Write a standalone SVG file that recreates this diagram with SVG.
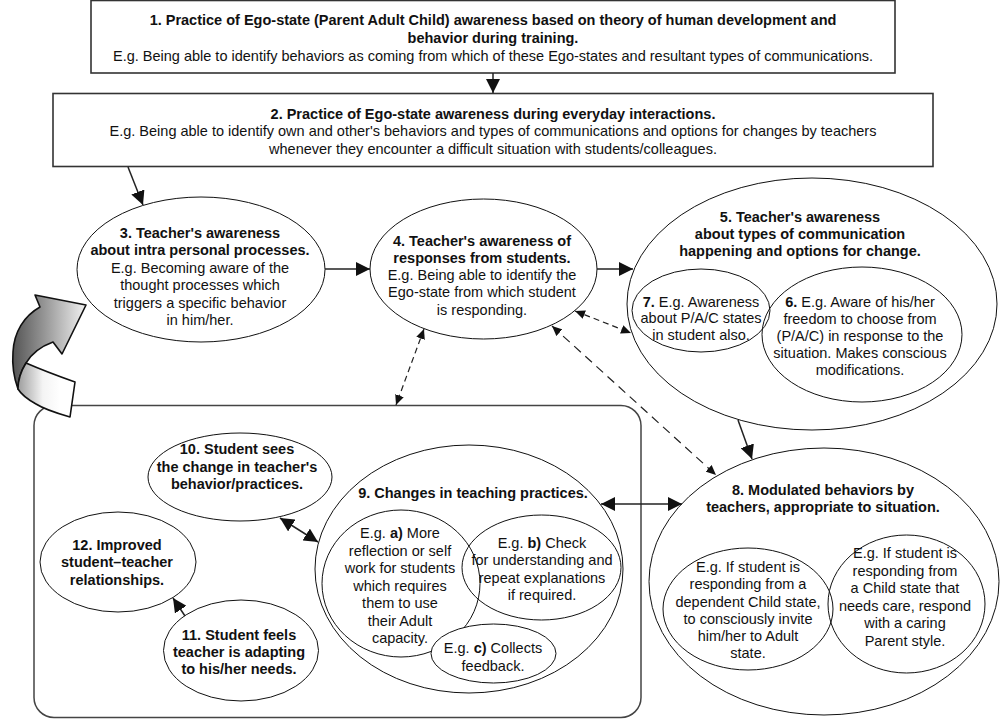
<svg xmlns="http://www.w3.org/2000/svg" width="1000" height="719" viewBox="0 0 1000 719">
<style>
.t{font-family:"Liberation Sans",Arial,Helvetica,sans-serif;font-size:14.5px;fill:#111;text-anchor:middle}
.b{font-weight:bold}
.box{fill:#fff;stroke:#333;stroke-width:1.6}
.el{fill:#fff;stroke:#111;stroke-width:1}
.in{fill:none;stroke:#111;stroke-width:1}
.ln{stroke:#222;stroke-width:1.5;fill:none}
.dash{stroke:#222;stroke-width:1.2;fill:none;stroke-dasharray:6 4}
.dash2{stroke:#222;stroke-width:1.2;fill:none;stroke-dasharray:9 6}
.arw{fill:#111}
</style>
<defs>
<marker id="ah" viewBox="0 0 14 14" refX="14" refY="7" markerWidth="14" markerHeight="14" markerUnits="userSpaceOnUse" orient="auto-start-reverse">
<path class="arw" d="M0,0 L14,7 L0,14 Z"/>
</marker>
<marker id="sh" viewBox="0 0 10 10" refX="10" refY="5" markerWidth="10" markerHeight="10" markerUnits="userSpaceOnUse" orient="auto-start-reverse">
<path class="arw" d="M0,0.5 L10,5 L0,9.5 Z"/>
</marker>
<linearGradient id="gA" x1="13" y1="0" x2="86" y2="0" gradientUnits="userSpaceOnUse">
<stop offset="0" stop-color="#555"/>
<stop offset="0.45" stop-color="#999"/>
<stop offset="1" stop-color="#f2f2f2"/>
</linearGradient>
<linearGradient id="gB" x1="17" y1="0" x2="60" y2="0" gradientUnits="userSpaceOnUse">
<stop offset="0" stop-color="#9a9a9a"/>
<stop offset="0.6" stop-color="#f4f4f4"/>
<stop offset="1" stop-color="#fff"/>
</linearGradient>
</defs>

<g id="container">
<rect x="34" y="405.5" width="607" height="312" rx="20" ry="20" fill="#fff" stroke="#444" stroke-width="1.5"/>
</g>

<g id="loop-arrow" stroke="#111" stroke-width="1.6" stroke-linejoin="round">
<path fill="url(#gA)" d="M40,307 L35,295 L86,305 L62,354 L53,342 C42,346 32,353 26,363 C21,371 18,380 18,389 C14,378 12,365 13,352 C14,332 24,316 40,307 Z"/>
<path fill="url(#gB)" d="M26,363 C42,370 58,376 75,382 L70,417 C56,413 44,409 36,404 C27,399 21,394 18,389 C18,380 21,371 26,363 Z"/>
</g>

<g id="node1">
<rect class="box" x="91" y="0.5" width="804" height="72.5"/>
<text class="t b" x="493" y="24.5">1. Practice of Ego-state (Parent Adult Child) awareness based on theory of human development and</text>
<text class="t b" x="493" y="42.5">behavior during training.</text>
<text class="t" x="493" y="60.5">E.g. Being able to identify behaviors as coming from which of these Ego-states and resultant types of communications.</text>
</g>

<g id="node2">
<rect class="box" x="53" y="93.5" width="880" height="73"/>
<text class="t b" x="493" y="118.5">2. Practice of Ego-state awareness during everyday interactions.</text>
<text class="t" x="493" y="136">E.g. Being able to identify own and other's behaviors and types of communications and options for changes by teachers</text>
<text class="t" x="493" y="153.5">whenever they encounter a difficult situation with students/colleagues.</text>
</g>

<g id="node3">
<ellipse class="el" cx="201" cy="269.5" rx="124" ry="72.5"/>
<text class="t b" x="200" y="237.5">3. Teacher's awareness</text>
<text class="t b" x="200" y="254.5">about intra personal processes.</text>
<text class="t" x="200" y="272.5">E.g. Becoming aware of the</text>
<text class="t" x="200" y="289.5">thought processes which</text>
<text class="t" x="200" y="307.5">triggers a specific behavior</text>
<text class="t" x="200" y="324.5">in him/her.</text>
</g>

<g id="node4">
<ellipse class="el" cx="483.5" cy="269" rx="113.5" ry="70"/>
<text class="t b" x="482" y="246">4. Teacher's awareness of</text>
<text class="t b" x="482" y="263">responses from students.</text>
<text class="t" x="482" y="280">E.g. Being able to identify the</text>
<text class="t" x="482" y="297">Ego-state from which student</text>
<text class="t" x="482" y="315">is responding.</text>
</g>

<g id="node5">
<ellipse class="el" cx="812" cy="304" rx="185" ry="126"/>
<text class="t b" x="800" y="221.5">5. Teacher's awareness</text>
<text class="t b" x="800" y="238.5">about types of communication</text>
<text class="t b" x="800" y="255.5">happening and options for change.</text>
</g>

<g id="node7">
<ellipse class="in" cx="701" cy="310.5" rx="69" ry="41.5"/>
<text class="t" x="701" y="306.5"><tspan class="b">7.</tspan> E.g. Awareness</text>
<text class="t" x="701" y="322.5">about P/A/C states</text>
<text class="t" x="701" y="339.5">in student also.</text>
</g>

<g id="node6">
<ellipse class="in" cx="862" cy="334.5" rx="100" ry="67.5"/>
<text class="t" x="860" y="306.5"><tspan class="b">6.</tspan> E.g. Aware of his/her</text>
<text class="t" x="860" y="323.5">freedom to choose from</text>
<text class="t" x="860" y="340.5">(P/A/C) in response to the</text>
<text class="t" x="860" y="357.5">situation. Makes conscious</text>
<text class="t" x="860" y="374.5">modifications.</text>
</g>

<g id="node8">
<ellipse class="el" cx="824" cy="581.5" rx="175" ry="133.5"/>
<text class="t b" x="823" y="494.5">8. Modulated behaviors by</text>
<text class="t b" x="823" y="511.5">teachers, appropriate to situation.</text>
</g>

<g id="node8a">
<ellipse class="in" cx="748" cy="609" rx="85" ry="61"/>
<text class="t" x="748" y="572">E.g. If student is</text>
<text class="t" x="748" y="589">responding from a</text>
<text class="t" x="748" y="606.5">dependent Child state,</text>
<text class="t" x="748" y="623.5">to consciously invite</text>
<text class="t" x="748" y="641">him/her to Adult</text>
<text class="t" x="748" y="658">state.</text>
</g>

<g id="node8b">
<ellipse class="in" cx="906.5" cy="604" rx="78.5" ry="69"/>
<text class="t" x="905" y="558">E.g. If student is</text>
<text class="t" x="905" y="575.5">responding from</text>
<text class="t" x="905" y="593">a Child state that</text>
<text class="t" x="905" y="610.5">needs care, respond</text>
<text class="t" x="905" y="628">with a caring</text>
<text class="t" x="905" y="645.5">Parent style.</text>
</g>

<g id="node10">
<ellipse class="el" cx="240" cy="477" rx="92" ry="44"/>
<text class="t b" x="237" y="454">10. Student sees</text>
<text class="t b" x="237" y="471.5">the change in teacher's</text>
<text class="t b" x="237" y="489">behavior/practices.</text>
</g>

<g id="node12">
<ellipse class="el" cx="118" cy="562" rx="78" ry="50"/>
<text class="t b" x="117" y="550">12. Improved</text>
<text class="t b" x="117" y="567">student–teacher</text>
<text class="t b" x="117" y="585">relationships.</text>
</g>

<g id="node11">
<ellipse class="el" cx="241" cy="650.5" rx="77.5" ry="50.5"/>
<text class="t b" x="239" y="640">11. Student feels</text>
<text class="t b" x="239" y="657">teacher is adapting</text>
<text class="t b" x="239" y="674">to his/her needs.</text>
</g>

<g id="node9">
<ellipse class="el" cx="469" cy="569" rx="154" ry="124"/>
<text class="t b" x="473" y="498">9. Changes in teaching practices.</text>
</g>

<g id="node9a">
<ellipse class="in" cx="401" cy="583.5" rx="79" ry="73.5"/>
<text class="t" x="400" y="538">E.g. <tspan class="b">a)</tspan> More</text>
<text class="t" x="400" y="555.5">reflection or self</text>
<text class="t" x="400" y="573">work for students</text>
<text class="t" x="400" y="590.5">which requires</text>
<text class="t" x="400" y="608">them to use</text>
<text class="t" x="400" y="625.5">their Adult</text>
<text class="t" x="400" y="642.5">capacity.</text>
</g>

<g id="node9b">
<ellipse class="in" cx="541.5" cy="567.5" rx="79.5" ry="52.5"/>
<text class="t" x="542" y="548">E.g. <tspan class="b">b)</tspan> Check</text>
<text class="t" x="542" y="565">for understanding and</text>
<text class="t" x="542" y="582.5">repeat explanations</text>
<text class="t" x="542" y="600">if required.</text>
</g>

<g id="node9c">
<ellipse class="el" cx="493.5" cy="653.5" rx="62.5" ry="29.5"/>
<text class="t" x="493" y="653">E.g. <tspan class="b">c)</tspan> Collects</text>
<text class="t" x="493" y="671">feedback.</text>
</g>

<g id="connectors">
<line class="ln" x1="493" y1="73" x2="493" y2="93" marker-end="url(#ah)"/>
<line class="ln" x1="128" y1="167" x2="143" y2="205" marker-end="url(#ah)"/>
<line class="ln" x1="325" y1="269" x2="370" y2="269" marker-end="url(#ah)"/>
<line class="ln" x1="597" y1="269" x2="633" y2="269" marker-end="url(#ah)"/>
<line class="ln" x1="738" y1="420" x2="752" y2="459" marker-end="url(#ah)"/>
<line class="ln" x1="601" y1="504" x2="682" y2="504" marker-start="url(#ah)" marker-end="url(#ah)"/>
<line class="ln" x1="280" y1="518" x2="318" y2="542" marker-start="url(#ah)" marker-end="url(#ah)"/>
<line class="ln" x1="185" y1="616" x2="173" y2="598" marker-end="url(#ah)"/>
<line class="dash" x1="424" y1="329" x2="396" y2="405" marker-start="url(#sh)" marker-end="url(#sh)"/>
<line class="dash" x1="575" y1="311" x2="631" y2="333" marker-start="url(#sh)" marker-end="url(#sh)"/>
<line class="dash2" x1="552" y1="326" x2="716" y2="475" marker-start="url(#sh)" marker-end="url(#sh)"/>
</g>
</svg>
